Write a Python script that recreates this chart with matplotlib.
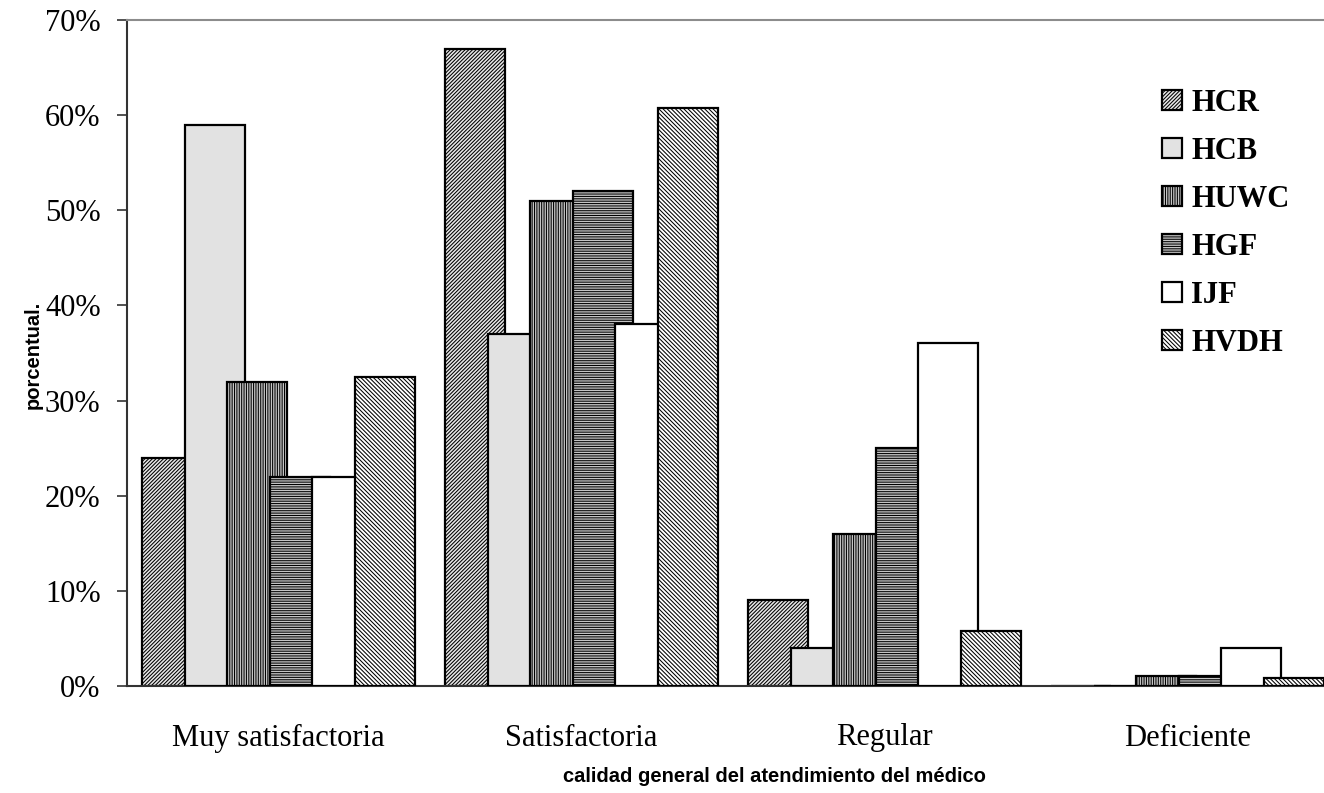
import matplotlib
matplotlib.use("Agg")
import matplotlib.pyplot as plt
import numpy as np

categories = ["Muy satisfactoria", "Satisfactoria", "Regular", "Deficiente"]
series = ["HCR", "HCB", "HUWC", "HGF", "IJF", "HVDH"]
HCR = [24, 67, 9, 0]
HCB = [59, 37, 4, 0]
HUWC = [32, 51, 16, 1]
HGF = [22, 52, 25, 1]
IJF = [22, 38, 36, 4]
HVDH = [32.5, 60.8, 5.8, 0.8]
values = [HCR, HCB, HUWC, HGF, IJF, HVDH]
yticks = [0, 10, 20, 30, 40, 50, 60, 70]

faces = ["#e8e8e8", "#e2e2e2", "#c4c4c4", "#c4c4c4", "white", "white"]
hatches = ["/" * 9, None, "|" * 7, "-" * 7, None, "\\" * 8]

plt.rcParams["hatch.linewidth"] = 0.75
plt.rcParams["hatch.color"] = "black"

fig = plt.figure(figsize=(13.24, 7.93), dpi=100)
ax = fig.add_axes([127/1324, 1-686/793, (1339-127)/1324, 666/793])

x = np.arange(len(categories))
step = 0.14
width = 0.198
for i, (name, vals) in enumerate(zip(series, values)):
    ax.bar(x + (i - 2.5) * step, vals, width=width, facecolor=faces[i],
           edgecolor="black", linewidth=1.6, hatch=hatches[i], label=name,
           zorder=2 + i)

ax.set_xlim(-0.5, 3.5)
ax.set_ylim(0, 70)
ax.set_yticks(yticks)
ax.set_yticklabels([f"{v}%" for v in yticks], fontfamily="Liberation Serif", fontsize=22)
ax.set_xticks(x)
ax.set_xticklabels(categories, fontfamily="Liberation Serif", fontsize=22)
ax.tick_params(axis="x", length=0, pad=27)
ax.tick_params(axis="y", direction="out", length=7, width=1.2, pad=12, colors="#333333", labelcolor="black")

for s in ["left", "bottom"]:
    ax.spines[s].set_color("#333333")
    ax.spines[s].set_linewidth(1.5)
ax.spines["top"].set_color("#8c8c8c")
ax.spines["top"].set_linewidth(1.5)
ax.spines["right"].set_visible(False)

fig.text(774/1324, 1-777/793, "calidad general del atendimiento del médico",
         ha="center", va="center", fontfamily="Liberation Sans", fontweight="bold", fontsize=14.5)
fig.text(33/1324, 1-355/793, "porcentual.", rotation=90, ha="center", va="center",
         fontfamily="Liberation Sans", fontweight="bold", fontsize=14.5)

leg = ax.legend(loc="upper left", bbox_to_anchor=(1162/1324, 1-89/793),
                bbox_transform=fig.transFigure, frameon=False,
                prop={"family": "Liberation Serif", "weight": "bold", "size": 22},
                handlelength=0.65, handleheight=0.65, handletextpad=0.3,
                labelspacing=0.62, borderpad=0, borderaxespad=0)

fig.savefig("out.png", dpi=100)
